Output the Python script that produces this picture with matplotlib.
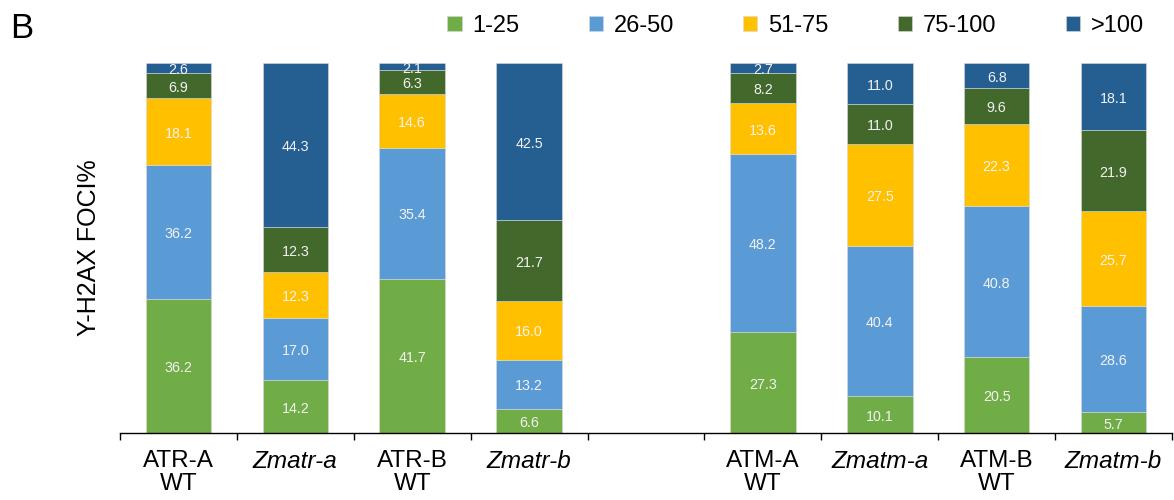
import matplotlib.pyplot as plt
import numpy as np

plt.rcParams['font.family'] = ['Liberation Sans', 'DejaVu Sans']

# categories, one empty slot between the ATR and ATM groups
groups = ["ATR-A\nWT", "Zmatr-a", "ATR-B\nWT", "Zmatr-b", "",
          "ATM-A\nWT", "Zmatm-a", "ATM-B\nWT", "Zmatm-b"]
italic = [False, True, False, True, False, False, True, False, True]

series = ["1-25", "26-50", "51-75", "75-100", ">100"]
colors = ["#70AD47", "#5B9BD5", "#FFC000", "#43682B", "#255E91"]

# percent of nuclei per foci class (empty slot = 0)
v_1_25 = [36.2, 14.2, 41.7, 6.6, 0, 27.3, 10.1, 20.5, 5.7]
v_26_50 = [36.2, 17.0, 35.4, 13.2, 0, 48.2, 40.4, 40.8, 28.6]
v_51_75 = [18.1, 12.3, 14.6, 16.0, 0, 13.6, 27.5, 22.3, 25.7]
v_75_100 = [6.9, 12.3, 6.3, 21.7, 0, 8.2, 11.0, 9.6, 21.9]
v_gt100 = [2.6, 44.3, 2.1, 42.5, 0, 2.7, 11.0, 6.8, 18.1]
values = [v_1_25, v_26_50, v_51_75, v_75_100, v_gt100]

fig = plt.figure(figsize=(11.74, 5), dpi=100)
ax = fig.add_axes([120 / 1174, 67 / 500, 1052 / 1174, 370 / 500])

x = np.arange(len(groups))
bottom = np.zeros(len(groups))
for name, vals, col in zip(series, values, colors):
    vals = np.array(vals)
    ax.bar(x, vals, 0.56, bottom=bottom, color=col, label=name,
           edgecolor="#d9d9d9", linewidth=0.4)
    for xi, b, v in zip(x, bottom, vals):
        if v > 0:
            ax.text(xi, b + v / 2 - 0.6, "%.1f" % v, ha="center",
                    va="center", fontsize=10.3, color="#f2f2f2")
    bottom += vals

ax.set_xlim(-0.5, len(groups) - 0.5)
ax.set_ylim(0, 100)
ax.set_xticks(x)
ax.set_xticklabels(groups, fontsize=17.5, linespacing=1.1)
for lab, it in zip(ax.get_xticklabels(), italic):
    if it:
        lab.set_fontstyle("italic")
ax.set_xticks(np.arange(len(groups) + 1) - 0.5, minor=True)
ax.tick_params(axis="x", which="major", length=0, pad=12)
ax.tick_params(axis="x", which="minor", length=5, width=1)
ax.set_yticks([])
for s in ["left", "right", "top"]:
    ax.spines[s].set_visible(False)
ax.spines["bottom"].set_linewidth(1)
ax.set_ylabel("Y-H2AX FOCI%", fontsize=18, labelpad=14)

fig.text(10 / 1174, 1 - 38 / 500, "B", fontsize=25)
fig.legend(loc="center right", bbox_to_anchor=(1144 / 1174, 1 - 26 / 500),
           ncol=5, frameon=False, fontsize=17, handlelength=0.6,
           handleheight=0.6, handletextpad=0.47, columnspacing=2.92,
           borderaxespad=0, borderpad=0)

fig.savefig("out.png", dpi=100)
